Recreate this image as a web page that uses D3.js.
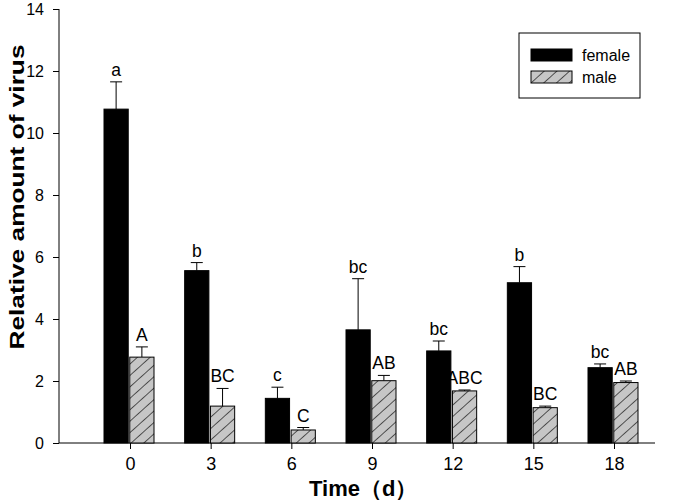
<!DOCTYPE html>
<html>
<head>
<meta charset="utf-8">
<script src="https://cdn.jsdelivr.net/npm/d3@7"></script>
<style>
  body { margin: 0; background: #fff; }
  text { font-family: "Liberation Sans", Arial, sans-serif; }
</style>
</head>
<body>
<svg id="chart" width="685" height="500"></svg>
<script>
const days = ["0", "3", "6", "9", "12", "15", "18"];
const femaleVals = [10.77, 5.56, 1.44, 3.65, 2.97, 5.17, 2.43];
const femaleErr = [0.88, 0.26, 0.36, 1.65, 0.32, 0.52, 0.12];
const maleVals = [2.77, 1.19, 0.42, 2.01, 1.68, 1.14, 1.95];
const maleErr = [0.33, 0.57, 0.08, 0.17, 0.03, 0.05, 0.05];
const femaleLetters = ["a", "b", "c", "bc", "bc", "b", "bc"];
const maleLetters = ["A", "BC", "C", "AB", "ABC", "BC", "AB"];
const yTicks = [0, 2, 4, 6, 8, 10, 12, 14];

const svg = d3.select("#chart");

// hatch pattern for male bars
const defs = svg.append("defs");
const pat = defs.append("pattern")
  .attr("id", "hatch")
  .attr("patternUnits", "userSpaceOnUse")
  .attr("width", 8.5)
  .attr("height", 8.5)
  .attr("patternTransform", "rotate(48)");
pat.append("rect").attr("width", 8.5).attr("height", 8.5).attr("fill", "#c6c6c6");
pat.append("line")
  .attr("x1", 0).attr("y1", 0).attr("x2", 0).attr("y2", 8.5)
  .style("stroke", "#000").style("stroke-width", 1.2);

const x = d3.scalePoint().domain(days).range([130, 614]);
const sub = d3.scaleBand().domain(["female", "male"]).range([-26, 24]).paddingInner(0.06);
const y = d3.scaleLinear().domain([0, 14]).range([443, 9]);

// axes
const yAxis = d3.axisLeft(y).tickValues(yTicks).tickSize(6).tickPadding(9);
const gy = svg.append("g").attr("transform", "translate(59,0)").call(yAxis);
gy.select(".domain").attr("d", "M0," + y(14) + "V" + y(0));
gy.selectAll("text").style("font-size", "16px").style("fill", "#000");

const xAxis = d3.axisBottom(x).tickSize(6).tickPadding(8);
const gx = svg.append("g").attr("transform", "translate(0,443)").call(xAxis);
gx.select(".domain").attr("d", "M59,0H655");
gx.selectAll("text").style("font-size", "18px").style("fill", "#000");

// bars
const series = [
  { key: "female", vals: femaleVals, err: femaleErr, letters: femaleLetters, fill: "#000" },
  { key: "male", vals: maleVals, err: maleErr, letters: maleLetters, fill: "url(#hatch)" }
];

series.forEach(s => {
  const g = svg.append("g");
  days.forEach((d, i) => {
    const bx = x(d) + sub(s.key);
    const bw = sub.bandwidth();
    const cx = bx + bw / 2;
    const top = y(s.vals[i] + s.err[i]);
    g.append("line")
      .attr("x1", cx).attr("x2", cx)
      .attr("y1", y(s.vals[i])).attr("y2", top)
      .style("stroke", "#000").style("stroke-width", 1);
    g.append("line")
      .attr("x1", cx - 6).attr("x2", cx + 6)
      .attr("y1", top).attr("y2", top)
      .style("stroke", "#000").style("stroke-width", 1);
    g.append("rect")
      .attr("x", bx).attr("y", y(s.vals[i]))
      .attr("width", bw).attr("height", y(0) - y(s.vals[i]))
      .attr("fill", s.fill)
      .style("stroke", "#000").style("stroke-width", 1);
    g.append("text")
      .attr("x", cx).attr("y", top - 6)
      .attr("text-anchor", "middle")
      .style("font-size", "17.5px")
      .text(s.letters[i]);
  });
});

// axis titles
svg.append("text")
  .attr("transform", "translate(24,197) rotate(-90)")
  .attr("text-anchor", "middle")
  .attr("textLength", 305)
  .attr("lengthAdjust", "spacingAndGlyphs")
  .style("font-size", "21px").style("font-weight", "bold")
  .text("Relative amount of virus");

svg.append("text")
  .attr("x", 309).attr("y", 496)
  .style("font-size", "22px").style("font-weight", "bold")
  .text("Time（d）");

// legend
const lg = svg.append("g");
lg.append("rect").attr("x", 519).attr("y", 33).attr("width", 121).attr("height", 65)
  .attr("fill", "#fff").style("stroke", "#000").style("stroke-width", 1);
const legendItems = [
  { label: "female", fill: "#000", y: 49 },
  { label: "male", fill: "url(#hatch)", y: 71 }
];
legendItems.forEach(it => {
  lg.append("rect").attr("x", 531).attr("y", it.y).attr("width", 41).attr("height", 12)
    .attr("fill", it.fill).style("stroke", "#000").style("stroke-width", 1);
  lg.append("text").attr("x", 582).attr("y", it.y + 12)
    .style("font-size", "16px").text(it.label);
});
</script>
</body>
</html>
